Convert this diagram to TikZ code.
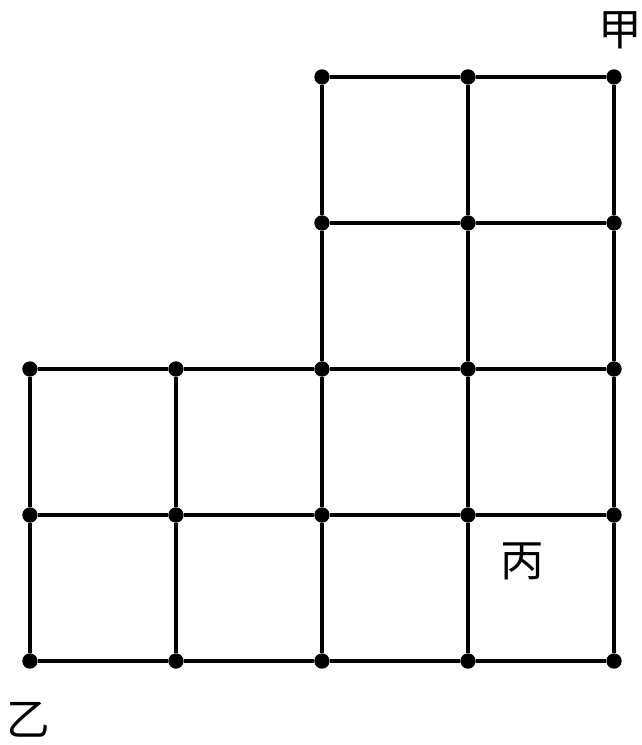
\documentclass[tikz,border=0pt]{standalone}
\usepackage{fontspec}
\newfontfamily\cjk{Noto Sans CJK SC}
\begin{document}
\begin{tikzpicture}[
  x=2cm,y=2cm,
  dot/.style={circle,fill=black,inner sep=0pt,minimum size=0.21cm},
  edge/.style={line width=1.4pt},
  lbl/.style={font=\cjk\fontsize{17}{20}\selectfont,inner sep=0pt}
]
  \useasboundingbox (-0.205,-0.575) rectangle (4.185,4.527);
  % grid points
  \foreach \i in {0,...,4}
    \foreach \j in {0,1,2}
      \node[dot] (d-\i-\j) at (\i,\j) {};
  \foreach \i in {2,3,4}
    \foreach \j in {3,4}
      \node[dot] (d-\i-\j) at (\i,\j) {};
  % horizontal lines
  \foreach \j in {0,1,2}
    \foreach \i in {0,...,3} {
      \pgfmathtruncatemacro\k{\i+1}
      \draw[edge] (d-\i-\j) -- (d-\k-\j);
    }
  \foreach \j in {3,4}
    \foreach \i in {2,3} {
      \pgfmathtruncatemacro\k{\i+1}
      \draw[edge] (d-\i-\j) -- (d-\k-\j);
    }
  % vertical lines
  \foreach \i in {0,1}
    \foreach \j in {0,1} {
      \pgfmathtruncatemacro\k{\j+1}
      \draw[edge] (d-\i-\j) -- (d-\i-\k);
    }
  \foreach \i in {2,3,4}
    \foreach \j in {0,...,3} {
      \pgfmathtruncatemacro\k{\j+1}
      \draw[edge] (d-\i-\j) -- (d-\i-\k);
    }
  % labels
  \node[lbl] (jia) at (4.04,4.32) {甲};
  \node[lbl] (yi) at (-0.01,-0.40) {乙};
  \node[lbl] (bing) at (3.37,0.68) {丙};
\end{tikzpicture}
\end{document}
